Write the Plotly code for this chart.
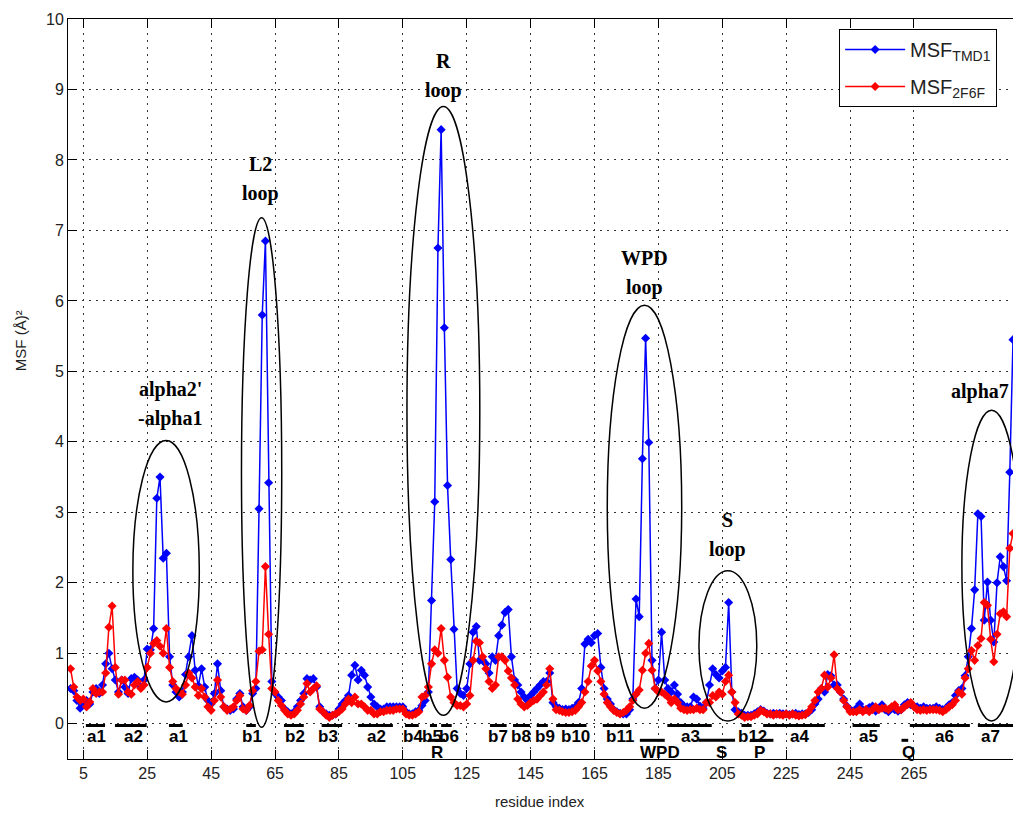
import plotly.graph_objects as go

# ---- data -------------------------------------------------------------
residue = list(range(1, 297))

msf_tmd1 = [
    0.50, 0.47, 0.33, 0.22, 0.28, 0.33, 0.28, 0.45, 0.50, 0.43,
    0.55, 0.85, 1.00, 0.78, 0.62, 0.45, 0.62, 0.52, 0.43, 0.64,
    0.66, 0.62, 0.52, 0.62, 1.06, 1.05, 1.35, 3.20, 3.50, 2.35,
    2.42, 0.95, 0.55, 0.45, 0.38, 0.45, 0.70, 0.95, 1.25, 0.76,
    0.54, 0.78, 0.52, 0.33, 0.28, 0.43, 0.85, 0.47, 0.24, 0.21,
    0.19, 0.21, 0.35, 0.43, 0.24, 0.19, 0.24, 0.43, 0.50, 3.05,
    5.80, 6.85, 3.42, 0.60, 0.43, 0.38, 0.33, 0.21, 0.17, 0.14,
    0.17, 0.24, 0.33, 0.43, 0.64, 0.62, 0.64, 0.52, 0.24, 0.17,
    0.14, 0.12, 0.12, 0.14, 0.21, 0.28, 0.33, 0.40, 0.69, 0.83,
    0.62, 0.76, 0.69, 0.52, 0.38, 0.28, 0.24, 0.21, 0.21, 0.24,
    0.24, 0.24, 0.24, 0.24, 0.24, 0.17, 0.14, 0.14, 0.17, 0.19,
    0.26, 0.33, 0.45, 1.75, 3.15, 6.75, 8.43, 5.62, 3.38, 2.33,
    1.34, 0.50, 0.43, 0.40, 0.50, 0.85, 1.30, 1.38, 0.90, 0.90,
    0.85, 0.72, 0.95, 0.90, 1.25, 1.40, 1.58, 1.62, 0.95, 0.62,
    0.55, 0.45, 0.38, 0.33, 0.40, 0.45, 0.50, 0.55, 0.60, 0.60,
    0.72, 0.30, 0.24, 0.22, 0.20, 0.21, 0.20, 0.22, 0.24, 0.30,
    0.50, 1.13, 1.20, 1.15, 1.25, 1.28, 0.80, 0.50, 0.35, 0.28,
    0.20, 0.17, 0.15, 0.14, 0.14, 0.20, 0.35, 1.77, 1.52, 3.76,
    5.47, 3.99, 0.90, 0.50, 0.62, 1.30, 0.62, 0.50, 0.45, 0.55,
    0.42, 0.30, 0.25, 0.24, 0.24, 0.38, 0.35, 0.25, 0.22, 0.30,
    0.55, 0.78, 0.70, 0.65, 0.75, 0.80, 1.72, 0.45, 0.20, 0.17,
    0.15, 0.12, 0.12, 0.12, 0.14, 0.17, 0.20, 0.18, 0.15, 0.14,
    0.15, 0.14, 0.15, 0.14, 0.14, 0.13, 0.14, 0.15, 0.13, 0.14,
    0.14, 0.16, 0.20, 0.28, 0.35, 0.50, 0.45, 0.70, 0.68, 0.55,
    0.55, 0.45, 0.35, 0.25, 0.20, 0.18, 0.22, 0.28, 0.20, 0.20,
    0.23, 0.25, 0.18, 0.22, 0.27, 0.20, 0.17, 0.22, 0.20, 0.18,
    0.20, 0.27, 0.30, 0.27, 0.25, 0.24, 0.22, 0.24, 0.22, 0.22,
    0.22, 0.24, 0.22, 0.20, 0.22, 0.27, 0.30, 0.40, 0.47, 0.50,
    0.68, 0.95, 1.35, 1.90, 2.98, 2.94, 1.47, 2.01, 1.47, 1.16,
    2.00, 2.37, 2.23, 2.03, 3.57, 5.45,
]

msf_2f6f = [
    0.78, 0.52, 0.38, 0.33, 0.35, 0.24, 0.31, 0.50, 0.43, 0.45,
    0.45, 0.72, 1.37, 1.67, 0.80, 0.42, 0.62, 0.62, 0.45, 0.42,
    0.55, 0.60, 0.50, 0.55, 0.80, 1.00, 1.14, 1.18, 1.10, 1.00,
    1.35, 0.80, 0.60, 0.50, 0.45, 0.42, 0.55, 0.72, 0.65, 0.52,
    0.40, 0.50, 0.38, 0.24, 0.19, 0.33, 0.62, 0.38, 0.24, 0.19,
    0.21, 0.24, 0.33, 0.40, 0.21, 0.19, 0.26, 0.47, 0.60, 1.03,
    1.05, 2.23, 1.27, 0.50, 0.45, 0.33, 0.26, 0.19, 0.14, 0.12,
    0.14, 0.19, 0.28, 0.38, 0.57, 0.45, 0.50, 0.54, 0.21, 0.17,
    0.12, 0.09, 0.12, 0.14, 0.17, 0.21, 0.28, 0.35, 0.30, 0.38,
    0.28, 0.28, 0.24, 0.19, 0.19, 0.14, 0.14, 0.17, 0.17, 0.19,
    0.19, 0.19, 0.21, 0.21, 0.21, 0.14, 0.12, 0.12, 0.14, 0.17,
    0.38, 0.40, 0.52, 0.85, 1.05, 1.00, 1.35, 0.90, 0.66, 0.38,
    0.30, 0.26, 0.26, 0.24, 0.28, 0.40, 0.90, 1.17, 1.15, 0.95,
    0.78, 0.60, 0.50, 0.55, 0.95, 0.95, 0.90, 0.75, 0.65, 0.55,
    0.35, 0.28, 0.24, 0.26, 0.30, 0.33, 0.35, 0.40, 0.45, 0.55,
    0.78, 0.35, 0.20, 0.19, 0.17, 0.16, 0.16, 0.17, 0.19, 0.24,
    0.30, 0.45, 0.60, 0.82, 0.90, 0.75, 0.60, 0.42, 0.30, 0.24,
    0.19, 0.16, 0.14, 0.16, 0.19, 0.24, 0.33, 0.42, 0.48, 0.76,
    1.00, 1.14, 0.76, 0.50, 0.45, 0.45, 0.42, 0.38, 0.30, 0.35,
    0.30, 0.22, 0.20, 0.19, 0.20, 0.20, 0.22, 0.20, 0.20, 0.30,
    0.30, 0.40, 0.38, 0.45, 0.42, 0.60, 0.69, 0.45, 0.30, 0.14,
    0.12, 0.09, 0.10, 0.10, 0.12, 0.14, 0.19, 0.17, 0.14, 0.14,
    0.12, 0.14, 0.13, 0.12, 0.14, 0.12, 0.14, 0.12, 0.11, 0.12,
    0.13, 0.17, 0.24, 0.33, 0.45, 0.50, 0.69, 0.52, 0.65, 0.98,
    0.50, 0.45, 0.33, 0.24, 0.17, 0.17, 0.17, 0.20, 0.17, 0.20,
    0.17, 0.20, 0.24, 0.20, 0.22, 0.22, 0.20, 0.24, 0.27, 0.20,
    0.20, 0.24, 0.27, 0.30, 0.24, 0.20, 0.19, 0.20, 0.19, 0.20,
    0.20, 0.20, 0.19, 0.17, 0.20, 0.24, 0.27, 0.33, 0.45, 0.42,
    0.65, 0.78, 1.04, 0.90, 1.11, 1.21, 1.72, 1.68, 1.20, 0.88,
    1.27, 1.56, 1.59, 1.52, 2.49, 2.70,
]

xtick_vals = list(range(5, 266, 20))
ytick_vals = list(range(0, 11))

# secondary-structure elements (upper row under the axis)
ss_names = ["a1", "a2", "a1", "b1", "b2", "b3", "a2", "b4", "b5", "b6", "b7",
            "b8", "b9", "b10", "b11", "a3", "b12", "a4", "a5", "a6", "a7"]
ss_start = [5.8, 14.9, 31.8, 56.0, 67.8, 79.6, 91.0, 105.7, 113.5, 117.0, 132.3,
            139.5, 146.9, 153.0, 167.6, 187.8, 211.0, 217.8, 245.8, 263.7, 285.0]
ss_end = [11.8, 24.8, 36.1, 59.0, 74.0, 86.0, 101.9, 110.0, 115.7, 120.3, 137.5,
          144.8, 150.4, 162.5, 176.1, 201.7, 214.2, 237.1, 254.3, 282.5, 298.0]
ss_label_x = [9.0, 20.6, 34.7, 57.7, 71.3, 81.5, 96.8, 108.2, 114.2, 119.5, 134.8,
              142.0, 149.5, 158.9, 173.0, 194.9, 214.6, 229.3, 250.7, 274.7, 288.8]

# functional loops (lower row)
loop_names = ["R", "WPD", "S", "P", "Q"]
loop_start = [113.0, 179.2, 197.5, 213.7, 261.1]
loop_end = [118.2, 187.0, 209.0, 221.0, 263.2]
loop_label_x = [115.6, 185.4, 204.8, 216.8, 263.2]

# highlighted flexible regions
region_lines = [["alpha2'", "-alpha1"], ["L2", "loop"], ["R", "loop"],
                ["WPD", "loop"], ["S", "loop"], ["alpha7"]]
region_x0 = [20.5, 54.5, 106.3, 169.0, 197.7, 280.0]
region_x1 = [41.3, 67.1, 129.1, 192.3, 215.8, 298.6]
region_y0 = [0.31, -0.05, 0.12, 0.22, 0.04, 0.04]
region_y1 = [4.02, 7.18, 8.76, 5.94, 2.17, 4.45]
region_label_x = [32.2, 60.6, 117.6, 180.8, 206.5, 285.6]
region_label_y = [4.75, 7.94, 9.40, 6.61, 2.89, 4.71]

# ---- figure -----------------------------------------------------------
SANS = "Liberation Sans, Arial, sans-serif"
AXIS_FONT = dict(family=SANS, size=16, color="#222222")
TITLE_FONT = dict(family=SANS, size=15, color="#222222")
LINE_SPACING = 0.42

fig = go.Figure()

fig.add_trace(go.Scatter(
    x=residue, y=msf_tmd1, mode="lines+markers", name="MSF<sub>TMD1</sub>",
    legendgroup="tmd1",
    line=dict(color="#0000FF", width=1.5),
    marker=dict(symbol="diamond", size=7, color="#0000FF"),
))
fig.add_trace(go.Scatter(
    x=residue, y=msf_2f6f, mode="lines+markers", name="MSF<sub>2F6F</sub>",
    legendgroup="2f6f",
    line=dict(color="#FF0000", width=1.5),
    marker=dict(symbol="diamond", size=7, color="#FF0000"),
))

# overline bars for the secondary-structure and loop labels
def segments(starts, ends, level):
    xs, ys = [], []
    for s, e in zip(starts, ends):
        xs += [s, e, None]
        ys += [level, level, None]
    return xs, ys

sx, sy = segments(ss_start, ss_end, -0.025)
lx, ly = segments(loop_start, loop_end, -0.235)
for xs, ys in ((sx, sy), (lx, ly)):
    fig.add_trace(go.Scatter(x=xs, y=ys, mode="lines", showlegend=False,
                             hoverinfo="skip",
                             line=dict(color="black", width=3)))

annotations = []
LABEL_FONT = dict(family=SANS, size=17, color="black")
for name, xc in zip(ss_names, ss_label_x):
    annotations.append(dict(x=xc, y=-0.18, xref="x", yref="y", text=f"<b>{name}</b>",
                            showarrow=False, font=LABEL_FONT,
                            xanchor="center", yanchor="middle"))
for name, xc in zip(loop_names, loop_label_x):
    annotations.append(dict(x=xc, y=-0.41, xref="x", yref="y", text=f"<b>{name}</b>",
                            showarrow=False, font=LABEL_FONT,
                            xanchor="center", yanchor="middle"))

REGION_FONT = dict(family="Liberation Serif, Times New Roman, serif", size=20, color="black")
for lines, xc, yc in zip(region_lines, region_label_x, region_label_y):
    for i, txt in enumerate(lines):
        annotations.append(dict(x=xc, y=yc - i * LINE_SPACING, xref="x", yref="y",
                                text=f"<b>{txt}</b>", showarrow=False, font=REGION_FONT,
                                xanchor="center", yanchor="middle"))

# axis titles
annotations.append(dict(x=0.4995, y=-0.058, xref="paper", yref="paper",
                        text="residue index", showarrow=False, font=TITLE_FONT,
                        xanchor="center", yanchor="middle"))
annotations.append(dict(x=-0.0508, y=0.566, xref="paper", yref="paper",
                        text="MSF (Å)²", textangle=-90, showarrow=False, font=TITLE_FONT,
                        xanchor="center", yanchor="middle"))

shapes = []
for x0, x1, y0, y1 in zip(region_x0, region_x1, region_y0, region_y1):
    shapes.append(dict(type="circle", xref="x", yref="y", x0=x0, x1=x1, y0=y0, y1=y1,
                       line=dict(color="black", width=1.5), layer="above"))

grid = dict(showgrid=True, gridcolor="#333333", gridwidth=1, griddash="2px,5px")

fig.update_layout(
    width=1013, height=816,
    margin=dict(l=68, r=0, t=19, b=57),
    plot_bgcolor="white", paper_bgcolor="white",
    annotations=annotations, shapes=shapes,
    legend=dict(x=0.816, y=0.9865, xanchor="left", yanchor="top",
                bgcolor="white", bordercolor="black", borderwidth=1,
                font=dict(family=SANS, size=20, color="#222222"),
                itemwidth=60, tracegroupgap=8),
    xaxis=dict(range=[0.2, 296], tickvals=xtick_vals, ticks="inside", ticklen=9,
               tickcolor="black", showline=True, linecolor="black", linewidth=1,
               mirror="ticks", zeroline=False, tickfont=AXIS_FONT, **grid),
    yaxis=dict(range=[-0.5, 10], tickvals=ytick_vals, ticks="inside", ticklen=9,
               tickcolor="black", showline=True, linecolor="black", linewidth=1,
               mirror=False, zeroline=False, tickfont=AXIS_FONT, **grid),
)

fig.write_html("out.html")
